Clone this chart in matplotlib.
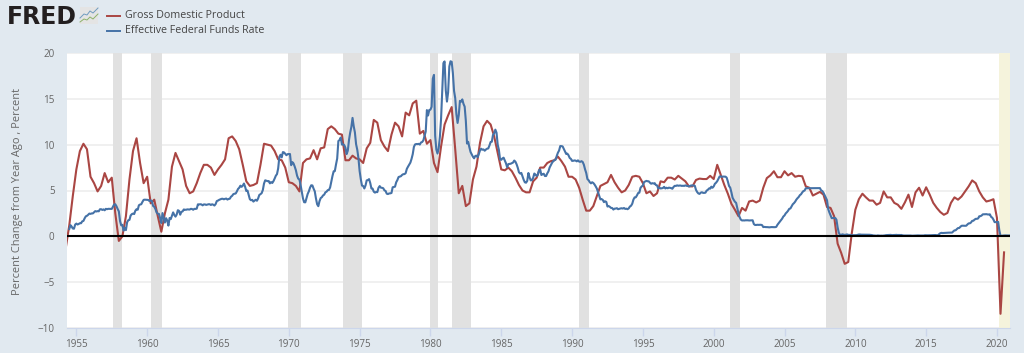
import numpy as np
import matplotlib
matplotlib.use('Agg')
import matplotlib.pyplot as plt
from matplotlib.patches import Rectangle

plt.rcParams['font.family'] = ['Open Sans', 'DejaVu Sans']

# quarterly, percent change from year ago, first value is 1954 Q2
gdp_start = 1954.25
gdp = [-1.3, 1.2, 4.4,
       7.3, 9.3, 10.1, 9.5, 6.5, 5.8, 4.9, 5.5, 6.9, 5.9, 6.4, 2.5,
       -0.5, 0.0, 2.2, 6.2, 9.3, 10.7, 8.0, 5.8, 6.5, 3.6, 4.0, 2.2,
       0.5, 2.5, 4.0, 7.6, 9.1, 8.2, 7.3, 5.5, 4.7, 4.9, 5.8, 6.9,
       7.8, 7.8, 7.5, 6.7, 7.3, 7.8, 8.4, 10.7, 10.9, 10.4, 9.5, 7.8,
       6.0, 5.5, 5.6, 5.8, 7.8, 10.1, 10.0, 9.9, 9.3, 8.4, 8.3, 7.5,
       5.9, 5.8, 5.5, 4.9, 8.0, 8.4, 8.5, 9.4, 8.4, 9.6, 9.7, 11.7,
       12.0, 11.7, 11.2, 11.1, 8.3, 8.3, 8.8, 8.5, 8.4, 8.0, 9.6, 10.2,
       12.7, 12.4, 10.5, 9.8, 9.3, 11.1, 12.4, 12.0, 10.9, 13.5, 13.2, 14.5,
       14.8, 11.2, 11.5, 10.1, 10.5, 8.0, 7.0, 9.8, 12.2, 13.2, 14.1, 9.5,
       4.7, 5.5, 3.3, 3.6, 6.2, 7.6, 10.2, 12.0, 12.6, 12.2, 10.9, 9.1,
       7.3, 7.2, 7.5, 7.1, 6.4, 5.6, 5.0, 4.8, 4.8, 6.0, 6.4, 7.5,
       7.5, 8.0, 8.2, 8.3, 8.7, 8.2, 7.6, 6.5, 6.5, 6.2, 5.3, 4.0,
       2.8, 2.8, 3.3, 4.4, 5.5, 5.7, 5.9, 6.7, 5.9, 5.3, 4.8, 5.0,
       5.6, 6.5, 6.6, 6.5, 5.8, 4.7, 4.9, 4.4, 4.7, 6.0, 5.9, 6.4,
       6.4, 6.2, 6.6, 6.3, 6.0, 5.45, 5.45, 6.15, 6.3, 6.25, 6.25, 6.6,
       6.25, 7.8, 6.7, 5.6, 4.65, 3.55, 2.9, 2.2, 3.1, 2.8, 3.8, 3.9,
       3.7, 3.9, 5.3, 6.35, 6.65, 7.1, 6.45, 6.45, 7.1, 6.65, 6.9, 6.5,
       6.6, 6.55, 5.45, 5.3, 4.45, 4.65, 4.85, 4.55, 3.2, 3.1, 2.2, -0.8,
       -1.8, -3.0, -2.8, 0.35, 2.9, 4.05, 4.65, 4.25, 3.9, 3.9, 3.45, 3.65,
       4.9, 4.25, 4.25, 3.65, 3.45, 3.0, 3.7, 4.55, 3.2, 4.8, 5.3, 4.45,
       5.35, 4.55, 3.65, 3.1, 2.65, 2.35, 2.55, 3.65, 4.25, 4.0, 4.35, 4.9,
       5.45, 6.1, 5.8, 4.9, 4.25, 3.8, 3.9, 4.05, 2.0, -8.45, -1.75]

# monthly, first value is July 1954
ff_start = 1954.5
ff = [0.80, 1.22, 1.07, 0.85, 0.83, 1.28,
      1.39, 1.29, 1.35, 1.43, 1.43, 1.64, 1.68, 1.96, 2.18, 2.24, 2.35, 2.48,
      2.45, 2.50, 2.50, 2.62, 2.75, 2.71, 2.75, 2.73, 2.95, 2.96, 2.88, 2.94,
      2.84, 3.00, 2.96, 3.00, 3.00, 3.00, 2.99, 3.24, 3.47, 3.50, 3.28, 2.98,
      2.72, 1.67, 1.20, 1.26, 0.63, 0.93, 0.68, 1.53, 1.76, 1.80, 2.27, 2.42,
      2.48, 2.43, 2.80, 2.96, 2.90, 3.39, 3.47, 3.50, 3.76, 3.98, 4.00, 3.99,
      3.99, 3.97, 3.84, 3.92, 3.85, 3.32, 3.23, 2.98, 2.60, 2.47, 2.44, 1.98,
      1.45, 2.54, 2.02, 1.50, 1.98, 1.73, 1.17, 2.00, 1.88, 2.26, 2.61, 2.33,
      2.15, 2.37, 2.85, 2.78, 2.36, 2.68, 2.71, 2.93, 2.90, 2.90, 2.94, 2.93,
      2.92, 3.00, 2.98, 2.90, 3.00, 2.99, 3.02, 3.49, 3.48, 3.50, 3.48, 3.38,
      3.48, 3.48, 3.43, 3.47, 3.50, 3.50, 3.42, 3.50, 3.45, 3.36, 3.52, 3.85,
      3.90, 3.98, 4.04, 4.09, 4.10, 4.04, 4.09, 4.12, 4.01, 4.08, 4.10, 4.32,
      4.42, 4.60, 4.65, 4.67, 4.90, 5.17, 5.30, 5.53, 5.40, 5.53, 5.76, 5.40,
      4.94, 5.00, 4.53, 4.05, 3.94, 3.98, 3.79, 3.90, 3.99, 3.88, 4.13, 4.51,
      4.60, 4.71, 5.05, 5.76, 6.11, 6.07, 6.02, 6.03, 5.78, 5.91, 5.82, 6.02,
      6.30, 6.61, 6.79, 7.41, 8.67, 8.90, 8.61, 9.19, 9.15, 9.00, 8.85, 8.97,
      8.98, 8.98, 7.76, 8.10, 7.95, 7.61, 7.21, 6.62, 6.29, 6.20, 5.60, 4.90,
      4.14, 3.72, 3.71, 4.16, 4.63, 4.91, 5.31, 5.57, 5.55, 5.20, 4.91, 4.14,
      3.50, 3.29, 3.83, 4.17, 4.27, 4.46, 4.55, 4.80, 4.87, 5.04, 5.06, 5.33,
      5.94, 6.58, 7.09, 7.12, 7.84, 8.49, 10.40, 10.50, 10.78, 10.01, 10.03, 9.95,
      9.65, 8.97, 9.35, 10.51, 11.31, 11.93, 12.92, 12.01, 11.34, 10.06, 9.45, 8.53,
      7.13, 6.24, 5.54, 5.49, 5.22, 5.55, 6.10, 6.14, 6.24, 5.82, 5.22, 5.20,
      4.87, 4.77, 4.84, 4.82, 5.29, 5.48, 5.31, 5.29, 5.25, 5.02, 4.95, 4.65,
      4.61, 4.68, 4.69, 4.73, 5.35, 5.39, 5.42, 5.90, 6.14, 6.47, 6.51, 6.56,
      6.70, 6.78, 6.79, 6.89, 7.36, 7.60, 7.81, 8.04, 8.45, 8.96, 9.76, 10.03,
      10.07, 10.06, 10.09, 10.01, 10.24, 10.29, 10.47, 10.94, 11.43, 13.77, 13.18, 13.78,
      13.82, 14.13, 17.19, 17.61, 10.98, 9.47, 9.03, 9.61, 10.87, 12.81, 15.85, 18.90,
      19.08, 15.93, 14.70, 15.72, 18.52, 19.10, 19.04, 17.82, 15.87, 15.08, 13.31, 12.37,
      13.22, 14.78, 14.68, 14.94, 14.45, 14.15, 12.59, 10.12, 10.31, 9.71, 9.20, 8.95,
      8.68, 8.51, 8.77, 8.80, 8.63, 8.98, 9.37, 9.56, 9.45, 9.48, 9.34, 9.47,
      9.56, 9.59, 9.91, 10.29, 10.32, 11.06, 11.23, 11.64, 11.30, 9.99, 9.43, 8.38,
      8.35, 8.50, 8.58, 8.27, 7.97, 7.53, 7.88, 7.90, 7.92, 7.99, 8.05, 8.27,
      8.14, 7.86, 7.48, 6.99, 6.85, 6.92, 6.56, 6.17, 5.89, 5.85, 6.04, 6.91,
      6.43, 6.10, 6.13, 6.37, 6.85, 6.73, 6.58, 6.73, 7.22, 7.29, 6.69, 6.77,
      6.83, 6.58, 6.58, 6.87, 7.09, 7.51, 7.75, 8.01, 8.19, 8.30, 8.35, 8.76,
      9.12, 9.36, 9.85, 9.84, 9.81, 9.53, 9.24, 8.99, 9.02, 8.84, 8.55, 8.45,
      8.23, 8.24, 8.28, 8.26, 8.18, 8.29, 8.15, 8.13, 8.20, 8.11, 7.81, 7.31,
      6.91, 6.25, 6.12, 5.91, 5.78, 5.90, 5.82, 5.66, 5.45, 5.21, 4.81, 4.43,
      4.03, 4.06, 3.98, 3.73, 3.82, 3.76, 3.25, 3.30, 3.22, 3.10, 3.09, 2.92,
      3.02, 3.03, 3.07, 2.96, 3.00, 3.04, 3.06, 3.03, 3.09, 2.99, 3.02, 2.96,
      3.05, 3.25, 3.34, 3.56, 4.01, 4.25, 4.26, 4.47, 4.73, 4.76, 5.29, 5.45,
      5.53, 5.92, 5.98, 6.05, 6.01, 6.00, 5.85, 5.74, 5.80, 5.76, 5.80, 5.60,
      5.56, 5.22, 5.31, 5.22, 5.24, 5.27, 5.40, 5.22, 5.30, 5.24, 5.31, 5.29,
      5.25, 5.19, 5.39, 5.51, 5.50, 5.56, 5.52, 5.54, 5.54, 5.50, 5.52, 5.50,
      5.56, 5.51, 5.49, 5.45, 5.49, 5.56, 5.54, 5.55, 5.51, 5.07, 4.83, 4.68,
      4.63, 4.76, 4.81, 4.74, 4.74, 4.76, 4.99, 5.07, 5.22, 5.20, 5.42, 5.30,
      5.45, 5.73, 5.85, 6.02, 6.27, 6.53, 6.54, 6.50, 6.52, 6.51, 6.51, 6.40,
      5.98, 5.49, 5.31, 4.80, 4.21, 3.97, 3.77, 3.65, 3.07, 2.49, 2.09, 1.82,
      1.73, 1.74, 1.73, 1.75, 1.75, 1.75, 1.73, 1.74, 1.75, 1.75, 1.34, 1.24,
      1.24, 1.26, 1.25, 1.26, 1.26, 1.22, 1.01, 1.03, 1.01, 1.01, 1.00, 0.98,
      1.00, 1.01, 1.00, 1.00, 1.00, 1.03, 1.26, 1.43, 1.61, 1.76, 1.93, 2.16,
      2.28, 2.50, 2.63, 2.79, 3.00, 3.04, 3.26, 3.50, 3.62, 3.78, 4.00, 4.16,
      4.29, 4.49, 4.59, 4.79, 4.94, 4.99, 5.24, 5.25, 5.25, 5.25, 5.25, 5.24,
      5.25, 5.26, 5.26, 5.25, 5.25, 5.25, 5.26, 5.02, 4.94, 4.76, 4.49, 4.24,
      3.94, 2.98, 2.61, 2.28, 1.98, 2.00, 2.01, 2.00, 1.81, 0.97, 0.39, 0.16,
      0.15, 0.22, 0.18, 0.15, 0.18, 0.21, 0.16, 0.16, 0.15, 0.12, 0.12, 0.12,
      0.11, 0.13, 0.16, 0.20, 0.20, 0.18, 0.18, 0.19, 0.19, 0.19, 0.19, 0.18,
      0.17, 0.16, 0.14, 0.10, 0.09, 0.09, 0.07, 0.10, 0.08, 0.07, 0.08, 0.07,
      0.08, 0.10, 0.13, 0.14, 0.16, 0.16, 0.16, 0.13, 0.14, 0.16, 0.16, 0.16,
      0.14, 0.15, 0.14, 0.15, 0.11, 0.09, 0.09, 0.08, 0.08, 0.09, 0.08, 0.09,
      0.07, 0.07, 0.08, 0.09, 0.09, 0.10, 0.09, 0.09, 0.09, 0.09, 0.09, 0.12,
      0.11, 0.11, 0.11, 0.12, 0.12, 0.13, 0.13, 0.14, 0.14, 0.12, 0.12, 0.24,
      0.34, 0.38, 0.36, 0.37, 0.37, 0.38, 0.39, 0.40, 0.40, 0.40, 0.41, 0.54,
      0.65, 0.66, 0.79, 0.90, 0.91, 1.04, 1.15, 1.16, 1.15, 1.15, 1.16, 1.30,
      1.41, 1.42, 1.51, 1.69, 1.70, 1.82, 1.91, 1.91, 1.95, 2.19, 2.20, 2.27,
      2.40, 2.40, 2.41, 2.42, 2.39, 2.38, 2.40, 2.13, 2.04, 1.83, 1.55, 1.55,
      1.55, 1.58, 0.65, 0.05, 0.05, 0.08, 0.09, 0.10, 0.09, 0.09, 0.09, 0.09]

recessions = [(1957.58, 1958.25), (1960.25, 1961.08), (1969.92, 1970.83),
              (1973.83, 1975.17), (1980.0, 1980.5), (1981.5, 1982.83),
              (1990.5, 1991.17), (2001.17, 2001.83), (2007.92, 2009.42)]
projected = (2020.15, 2020.92)

years = list(range(1955, 2021, 5))
yticks = [-10, -5, 0, 5, 10, 15, 20]
names = ['Gross Domestic Product', 'Effective Federal Funds Rate']

bg = '#e1e9f0'
red = '#aa4643'
blue = '#4572a7'
grey = '#666666'
W, H = 1024.0, 353.0

fig = plt.figure(figsize=(10.24, 3.53), dpi=100, facecolor=bg)
ax = fig.add_axes([67/W, 1-328/H, (1010-67)/W, (328-53)/H])

gdp_x = gdp_start + 0.25*np.arange(len(gdp))
ff_x = ff_start + np.arange(len(ff))/12.0

for a, b in recessions:
    ax.axvspan(a, b, color='#e1e1e1', lw=0, zorder=2)
ax.axvspan(projected[0], projected[1], color='#f5f3dc', lw=0, zorder=2)

ax.plot(gdp_x, gdp, color=red, lw=1.5, zorder=3, solid_joinstyle='round')
ax.plot(ff_x, ff, color=blue, lw=1.5, zorder=4, solid_joinstyle='round')
ax.axhline(0, color='black', lw=1.5, zorder=5)

ax.set_xlim(1954.34, 2020.92)
ax.set_ylim(-10, 20)
ax.set_yticks(yticks)
ax.set_xticks(years)
ax.grid(axis='y', color='#f0f0f0', lw=1.4)
for gl in ax.get_ygridlines():
    gl.set_zorder(1)

for s in ['top', 'right', 'left']:
    ax.spines[s].set_visible(False)
ax.spines['bottom'].set_color('#ccd6eb')
ax.tick_params(axis='y', length=0, pad=9, labelsize=7.1, labelcolor=grey)
ax.tick_params(axis='x', length=6, width=1, color='#ccd6eb', pad=2, labelsize=7.1, labelcolor=grey)

fig.text(17.5/W, 1-191/H, 'Percent Change from Year Ago , Percent', rotation=90,
         ha='center', va='center', fontsize=7.9, color=grey)

# legend sits next to the logo, not inside the axes
fig.add_artist(plt.Line2D([107/W, 120/W], [1-15.5/H]*2, color=red, lw=1.4))
fig.add_artist(plt.Line2D([107/W, 120/W], [1-30.5/H]*2, color=blue, lw=1.4))
fig.text(125/W, 1-15.5/H, names[0], ha='left', va='center', fontsize=7.7, color='#444444')
fig.text(125/W, 1-30.5/H, names[1], ha='left', va='center', fontsize=7.7, color='#444444')

# FRED logo
fig.text(6.5/W, 1-24/H, 'FRED', ha='left', va='baseline', fontsize=17, fontweight='bold',
         color='#231f20', family='DejaVu Sans')
fig.add_artist(Rectangle((80/W, 1-24/H), 18/W, 17/H, transform=fig.transFigure,
                         facecolor='#e4e4e4', edgecolor='none'))
fig.add_artist(plt.Line2D(np.array([80, 84, 87, 90, 93, 98])/W, 1-np.array([18, 14, 15, 11, 13, 8])/H,
                          color='#6f9bbf', lw=0.7))
fig.add_artist(plt.Line2D(np.array([80, 84, 87, 90, 93, 98])/W, 1-np.array([22, 19, 20, 17, 19, 14])/H,
                          color='#8db26a', lw=0.7))

fig.savefig('out.png', dpi=100, facecolor=bg)
